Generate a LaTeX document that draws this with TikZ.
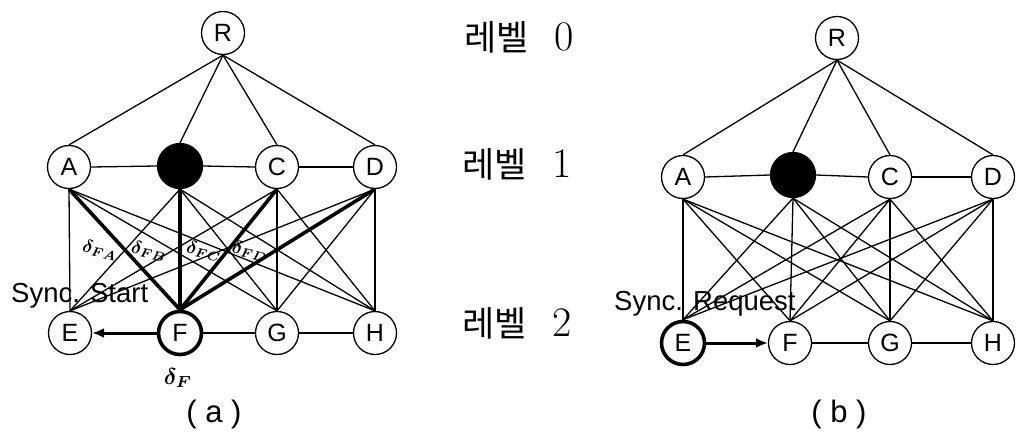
\documentclass[tikz,border=0pt]{standalone}
\usepackage{graphicx}
\usepackage{fontspec}
\newfontfamily\sansfnt{Liberation Sans}
\newfontfamily\krfnt{Noto Sans CJK KR}
\usetikzlibrary{arrows.meta}

\tikzset{
  vtx/.style={circle, draw, line width=1.3pt, minimum size=43pt, inner sep=0pt,
              fill=white, font=\sansfnt\fontsize{25}{25}\selectfont},
  hub/.style={circle, draw, fill=black, line width=1.3pt, minimum size=45pt, inner sep=0pt},
  srcvtx/.style={vtx, line width=3.6pt},
  link/.style={line width=1.3pt},
  heavy/.style={line width=3.6pt},
  sendarrow/.style={line width=3pt, -{Latex[length=12pt,width=10pt]}},
  delay/.style={rotate=-12, inner sep=0pt},
  tag/.style={font=\sansfnt\fontsize{27.5}{27.5}\selectfont, anchor=base west, inner sep=0pt},
  caption/.style={font=\sansfnt\fontsize{31}{31}\selectfont, inner sep=0pt},
  level/.style={anchor=west, inner sep=0pt}
}

% delay symbols are set in bold math at 10pt and enlarged
\newcommand{\dly}[1]{\scalebox{1.85}{\boldmath$\delta_{#1}$}}
\newcommand{\lvltext}[1]{{\krfnt\fontsize{35}{35}\selectfont 레벨}\hspace{26pt}{\rmfamily\fontsize{42}{42}\selectfont #1}}

\begin{document}
\begin{tikzpicture}[x=1pt, y=-1pt]
  \useasboundingbox (0,0) rectangle (1016,447);

  % ---------- panel (a): F starts the synchronisation ----------
  \node[vtx] (aR) at (223,33) {R};
  \node[vtx] (aA) at (69,167) {A};
  \node[hub] (aB) at (180,166) {};
  \node[vtx] (aC) at (277,167) {C};
  \node[vtx] (aD) at (375,167) {D};
  \node[vtx] (aE) at (70,333) {E};
  \node[srcvtx] (aF) at (180,333) {F};
  \node[vtx] (aG) at (277,333) {G};
  \node[vtx] (aH) at (375,333) {H};

  \foreach \u in {A,B,C,D} \draw[link] (aR.south) -- (a\u.north);
  \draw[link] (aA.east) -- (aB.west);
  \draw[link] (aB.east) -- (aC.west);
  \draw[link] (aC.east) -- (aD.west);
  \draw[link] (aF.east) -- (aG.west);
  \draw[link] (aG.east) -- (aH.west);
  \foreach \u in {A,B,C,D}
    \foreach \v in {E,G,H}
      \draw[link] (a\u.south) -- (a\v.north);
  \foreach \u in {A,B,C,D} \draw[heavy] (a\u.south) -- (aF.north);
  \draw[sendarrow] (aF.west) -- (aE.east);

  \node[delay] (dFA) at (100,250) {\dly{FA}};
  \node[delay] (dFB) at (149,251) {\dly{FB}};
  \node[delay] (dFC) at (204,251) {\dly{FC}};
  \node[delay] (dFD) at (250,251) {\dly{FD}};
  \node[inner sep=0pt] (dF) at (178,378) {\scalebox{2.3}{\boldmath$\delta_{F}$}};

  \node[tag] (startlbl) at (11,302) {Sync. Start};
  \node[caption] (capA) at (214,414) {(\;a\;)};

  % ---------- level labels ----------
  \node[level] (lv0) at (464,37) {\lvltext{0}};
  \node[level] (lv1) at (462,164) {\lvltext{1}};
  \node[level] (lv2) at (462,323) {\lvltext{2}};

  % ---------- panel (b): E requests synchronisation ----------
  \node[vtx] (bR) at (837,38) {R};
  \node[vtx] (bA) at (683,177) {A};
  \node[hub] (bB) at (793,175) {};
  \node[vtx] (bC) at (890,177) {C};
  \node[vtx] (bD) at (993,177) {D};
  \node[srcvtx] (bE) at (683,343) {E};
  \node[vtx] (bF) at (790,343) {F};
  \node[vtx] (bG) at (890,343) {G};
  \node[vtx] (bH) at (993,343) {H};

  \foreach \u in {A,B,C,D} \draw[link] (bR.south) -- (b\u.north);
  \draw[link] (bA.east) -- (bB.west);
  \draw[link] (bB.east) -- (bC.west);
  \draw[link] (bC.east) -- (bD.west);
  \draw[link] (bF.east) -- (bG.west);
  \draw[link] (bG.east) -- (bH.west);
  \foreach \u in {A,B,C,D}
    \foreach \v in {E,F,G,H}
      \draw[link] (b\u.south) -- (b\v.north);
  \draw[sendarrow] (bE.east) -- (bF.west);

  \node[tag] (reqlbl) at (614,310) {Sync. Request};
  \node[caption] (capB) at (839,414) {(\;b\;)};
\end{tikzpicture}
\end{document}
